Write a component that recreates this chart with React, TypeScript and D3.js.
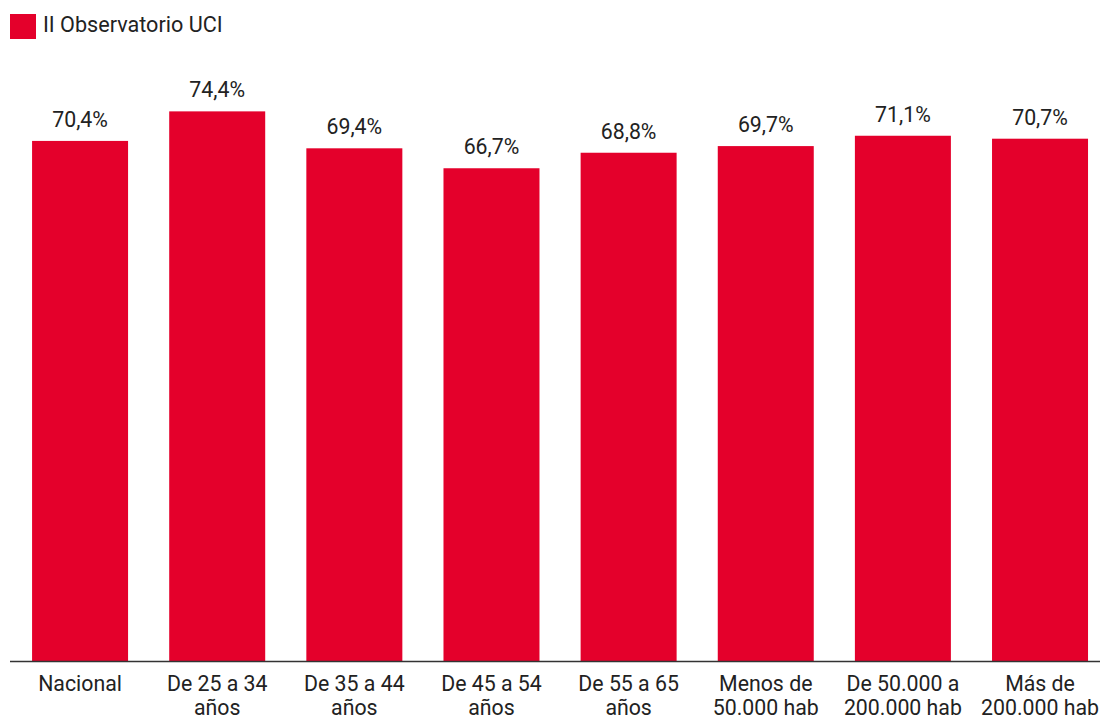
import React from "react";
import * as d3 from "d3";

const categories: string[][] = [
  ["Nacional"],
  ["De 25 a 34", "años"],
  ["De 35 a 44", "años"],
  ["De 45 a 54", "años"],
  ["De 55 a 65", "años"],
  ["Menos de", "50.000 hab"],
  ["De 50.000 a", "200.000 hab"],
  ["Más de", "200.000 hab"],
];
const values: number[] = [70.4, 74.4, 69.4, 66.7, 68.8, 69.7, 71.1, 70.7];
const valueLabels: string[] = ["70,4%", "74,4%", "69,4%", "66,7%", "68,8%", "69,7%", "71,1%", "70,7%"];
const seriesName = "II Observatorio UCI";

const W = 1100;
const H = 718;
const COLOR = "#E4002B";
const FONT = "Roboto, sans-serif";

export default function App() {
  const keys = categories.map((c) => c.join(" "));
  const x = d3.scaleBand<string>().domain(keys).range([11.5, 1108.6]).paddingInner(0.3).paddingOuter(0.15);
  const y = d3.scaleLinear().domain([0, 80]).range([661, 70]);

  return (
    <svg width={W} height={H} style={{ position: "absolute", left: 0, top: 0 }} fontFamily={FONT}>
      <rect x={0} y={0} width={W} height={H} fill="#fff" />
      <rect x={10} y={14} width={26} height={25} fill={COLOR} />
      <text x={43} y={32} fontSize={21.6} fill="#222">{seriesName}</text>
      {values.map((v, i) => {
        const k = keys[i];
        const bx = x(k)!;
        const bw = x.bandwidth();
        return (
          <g key={k}>
            <rect x={bx} y={y(v)} width={bw} height={y(0) - y(v)} fill={COLOR} />
            <text x={bx + bw / 2} y={y(v) - 14} textAnchor="middle" fontSize={21.3} fill="#222">
              {valueLabels[i]}
            </text>
            {categories[i].map((line, j) => (
              <text key={j} x={bx + bw / 2} y={691 + j * 24} textAnchor="middle" fontSize={21.3} fill="#222">
                {line}
              </text>
            ))}
          </g>
        );
      })}
      <line x1={10} x2={W} y1={y(0) + 0.5} y2={y(0) + 0.5} stroke="#333" strokeWidth={1.5} />
    </svg>
  );
}
